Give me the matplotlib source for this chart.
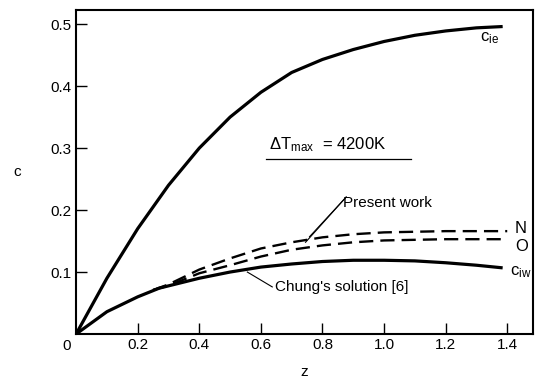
import numpy as np
import matplotlib
matplotlib.use('Agg')
import matplotlib.pyplot as plt

plt.rcParams['font.family'] = ['Liberation Sans', 'DejaVu Sans']
plt.rcParams['mathtext.default'] = 'regular'
fs = 11

# c_ie curve
z_ie = [0, 0.1, 0.2, 0.3, 0.4, 0.5, 0.6, 0.7, 0.8, 0.9, 1.0, 1.1, 1.2, 1.3, 1.38]
c_ie = [0, 0.09, 0.17, 0.24, 0.30, 0.35, 0.39, 0.422, 0.443, 0.459, 0.472, 0.482, 0.489, 0.494, 0.496]

# Chung's solution (c_iw)
z_iw = [0, 0.1, 0.2, 0.27, 0.4, 0.5, 0.6, 0.7, 0.8, 0.9, 1.0, 1.1, 1.2, 1.3, 1.38]
c_iw = [0, 0.036, 0.060, 0.074, 0.090, 0.100, 0.108, 0.113, 0.117, 0.119, 0.119, 0.118, 0.115, 0.111, 0.107]

# present work, N and O
z_pw = [0.25, 0.3, 0.4, 0.5, 0.6, 0.7, 0.8, 0.9, 1.0, 1.1, 1.2, 1.3, 1.4]
c_N = [0.071, 0.080, 0.104, 0.122, 0.138, 0.148, 0.156, 0.161, 0.164, 0.165, 0.166, 0.166, 0.166]
c_O = [0.071, 0.078, 0.098, 0.111, 0.125, 0.136, 0.143, 0.148, 0.151, 0.152, 0.153, 0.153, 0.153]

xticks = [0.2, 0.4, 0.6, 0.8, 1.0, 1.2, 1.4]
xtick_labels = ['0.2', '0.4', '0.6', '0.8', '1.0', '1.2', '1.4']
yticks = [0.1, 0.2, 0.3, 0.4, 0.5]
ytick_labels = ['0.1', '0.2', '0.3', '0.4', '0.5']

fig = plt.figure(figsize=(5.36, 3.8), dpi=100)
ax = fig.add_axes([0.142, 0.121, 0.852, 0.853])

ax.plot(z_ie, c_ie, c='k', lw=2.3)
ax.plot(z_iw, c_iw, c='k', lw=2.3)
ax.plot(z_pw, c_N, c='k', lw=1.7, dashes=(6, 3))
ax.plot(z_pw, c_O, c='k', lw=1.7, dashes=(6, 3))

ax.set_xlim(0, 1.483)
ax.set_ylim(0, 0.523)
ax.set_xticks(xticks)
ax.set_xticklabels(xtick_labels)
ax.set_yticks(yticks)
ax.set_yticklabels(ytick_labels)
ax.tick_params(direction='in', length=8, width=1, labelsize=fs, pad=3)
for s in ax.spines.values():
    s.set_linewidth(1.5)

ax.text(-0.03, -0.019, '0', ha='center', va='center', fontsize=fs)
ax.set_xlabel('z', fontsize=fs, va='center')
ax.xaxis.set_label_coords(0.5, -0.117)
ax.set_ylabel('c', fontsize=fs, rotation=0, va='center', ha='center')
ax.yaxis.set_label_coords(-0.129, 0.5)

# curve labels
ax.text(1.31, 0.477, r'$c_{ie}$', fontsize=fs + 1, ha='left', va='center')
ax.text(1.408, 0.100, r'$c_{iw}$', fontsize=fs + 1, ha='left', va='center')
ax.text(1.425, 0.170, 'N', fontsize=fs + 1, ha='left', va='center')
ax.text(1.425, 0.142, 'O', fontsize=fs + 1, ha='left', va='center')

# delta T note
ax.text(0.628, 0.305, r'$\Delta T_{max}$  = 4200K', fontsize=fs + 1, ha='left', va='center')
ax.plot([0.618, 1.089], [0.282, 0.282], c='k', lw=0.9)

# leaders
ax.text(0.868, 0.212, 'Present work', fontsize=fs, ha='left', va='center')
ax.plot([0.877, 0.758], [0.221, 0.157], c='k', lw=0.8)
ax.plot([0.877, 0.745], [0.221, 0.148], c='k', lw=0.8)

ax.text(0.645, 0.076, "Chung's solution [6]", fontsize=fs, ha='left', va='center')
ax.plot([0.556, 0.637], [0.100, 0.076], c='k', lw=0.8)

fig.savefig('out.png', dpi=100)
